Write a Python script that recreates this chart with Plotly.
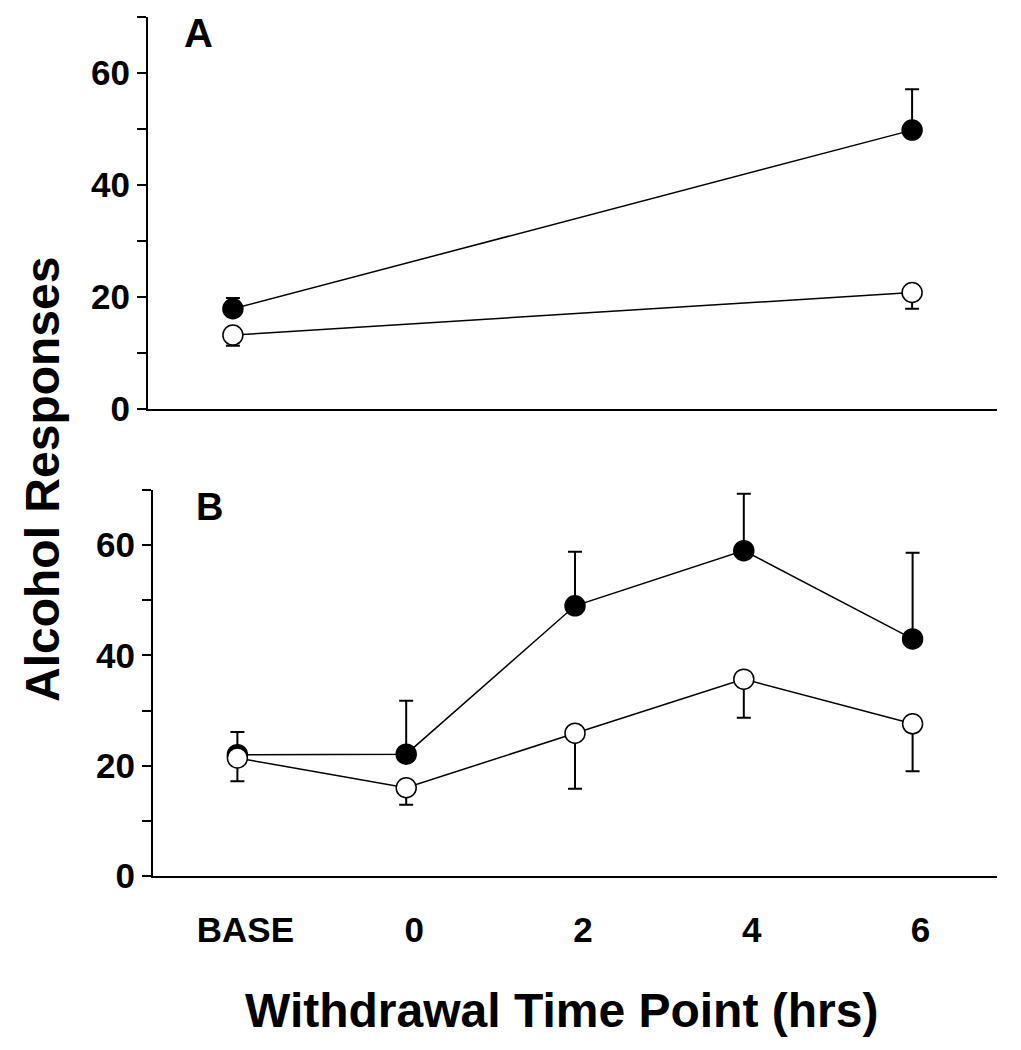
import plotly.graph_objects as go

# ---- data ----
categories = ["BASE", "0", "2", "4", "6"]

# Panel A (only BASE and 6 hrs)
a_x = ["BASE", "6"]
a_filled = [17.9, 49.8]
a_filled_err = [1.9, 7.3]
a_open = [13.2, 20.8]
a_open_err = [1.9, 2.9]

# Panel B
b_filled = [22.0, 22.1, 49.0, 59.0, 43.0]
b_filled_err = [4.1, 9.7, 9.8, 10.3, 15.6]
b_open = [21.4, 16.0, 25.9, 35.7, 27.6]
b_open_err = [4.2, 3.1, 10.1, 7.0, 8.6]

y_tickvals = [0, 10, 20, 30, 40, 50, 60, 70]
y_ticktext = ["0", "", "20", "", "40", "", "60", ""]

FONT = "Liberation Sans, Arial, sans-serif"
OFF = 8  # page body margin
W, H = 1021 - OFF, 1050 - OFF

fig = go.Figure()

def add_series(xs, ys, err, filled, xa, ya):
    fig.add_trace(go.Scatter(
        x=[categories.index(v) for v in xs], y=ys,
        mode="lines+markers",
        line=dict(color="black", width=1.5),
        marker=dict(symbol="circle", size=20,
                    color="black" if filled else "white",
                    line=dict(color="black", width=1.5)),
        error_y=dict(type="data", symmetric=False,
                     array=err if filled else [0] * len(err),
                     arrayminus=[0] * len(err) if filled else err,
                     color="black", thickness=2, width=7),
        xaxis=xa, yaxis=ya, showlegend=False, cliponaxis=False,
    ))

add_series(a_x, a_filled, a_filled_err, True, "x", "y")
add_series(a_x, a_open, a_open_err, False, "x", "y")
add_series(categories, b_filled, b_filled_err, True, "x2", "y2")
add_series(categories, b_open, b_open_err, False, "x2", "y2")

def px_x(p):
    return (p - OFF) / W

def px_y(p):
    return 1 - (p - OFF) / H

axis_common = dict(showgrid=False, zeroline=False, showline=True,
                   linecolor="black", linewidth=2)

fig.update_layout(
    width=W, height=H,
    margin=dict(l=0, r=0, t=0, b=0),
    paper_bgcolor="white", plot_bgcolor="white",
    font=dict(family=FONT, color="black"),
    xaxis=dict(domain=[px_x(148), px_x(997)], range=[-0.5, 4.5],
               anchor="y", showticklabels=False, ticks="", **axis_common),
    yaxis=dict(domain=[px_y(409), px_y(17)], range=[0, 70], anchor="x",
               tickvals=y_tickvals, ticktext=y_ticktext, ticks="outside",
               ticklen=9, tickwidth=2, tickcolor="black",
               tickfont=dict(size=35, family=FONT, weight="bold"),
               automargin=False, **axis_common),
    xaxis2=dict(domain=[px_x(153), px_x(997)], range=[-0.5, 4.5],
                anchor="y2", tickvals=list(range(len(categories))),
                ticktext=categories, ticks="",
                tickfont=dict(size=35, family=FONT, weight="bold"),
                ticklabelstandoff=22, ticklabelshift=8,
                automargin=False, **axis_common),
    yaxis2=dict(domain=[px_y(876), px_y(490)], range=[0, 70], anchor="x2",
                tickvals=y_tickvals, ticktext=y_ticktext, ticks="outside",
                ticklen=9, tickwidth=2, tickcolor="black",
                tickfont=dict(size=35, family=FONT, weight="bold"),
                automargin=False, **axis_common),
)

annotations = [
    dict(text="<b>A</b>", x=px_x(198), y=px_y(33), font=dict(size=40)),
    dict(text="<b>B</b>", x=px_x(209), y=px_y(507), font=dict(size=38)),
    dict(text="<b>Alcohol Responses</b>", x=px_x(42), y=px_y(480),
         font=dict(size=48), textangle=-90),
    dict(text="<b>Withdrawal Time Point (hrs)</b>", x=px_x(561), y=px_y(1010),
         font=dict(size=48)),
]
for a in annotations:
    fig.add_annotation(xref="paper", yref="paper", showarrow=False,
                       xanchor="center", yanchor="middle",
                       font_family=FONT, font_color="black",
                       **{k: v for k, v in a.items()})

fig.write_html("out.html")
